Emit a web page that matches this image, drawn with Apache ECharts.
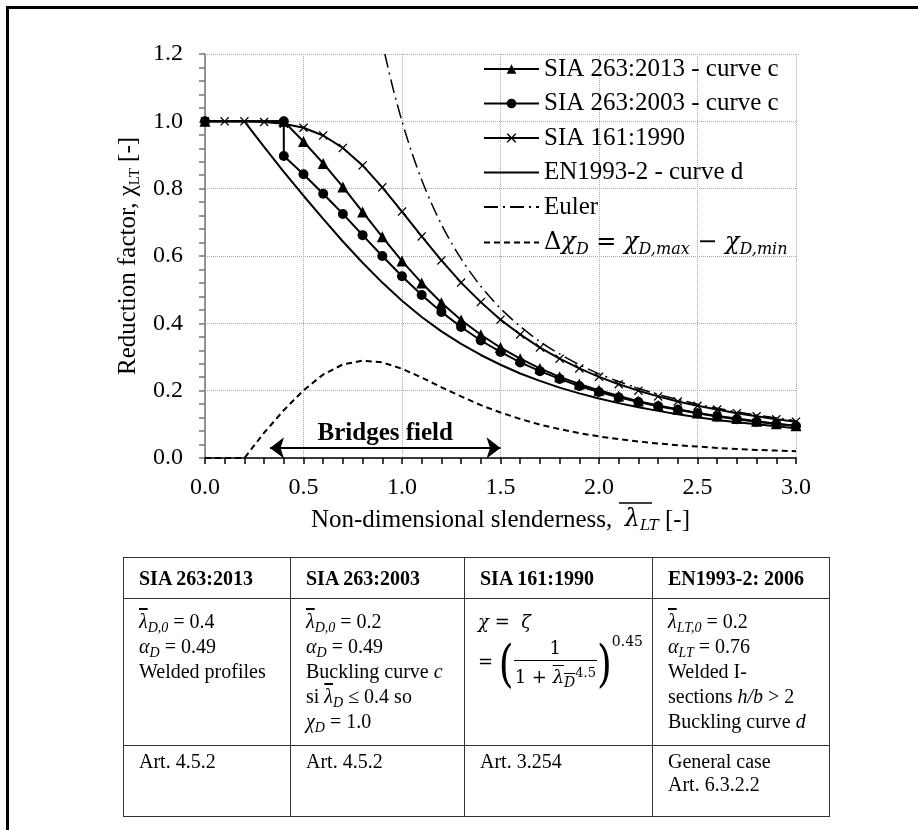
<!DOCTYPE html>
<html>
<head>
<meta charset="utf-8">
<script src="https://cdn.jsdelivr.net/npm/echarts@6/dist/echarts.min.js"></script>
<style>
  body { margin: 0; background: #fff; }
  #wrap { position: relative; width: 918px; height: 830px; overflow: hidden; }
  #chart { position: absolute; left: 0; top: 0; width: 918px; height: 830px; }
  table.info {
    position: absolute; left: 123px; top: 557px; width: 706px;
    border-collapse: collapse; table-layout: fixed;
    font-family: 'Liberation Serif', serif; font-size: 20px; color: #000;
  }
  table.info td, table.info th { border: 1.5px solid #333; vertical-align: top; text-align: left; }
  table.info th { padding: 8px 10px 8px 15px; line-height: 24px; font-weight: bold; }
  tr.body td { padding: 10px 8px 0 15px; line-height: 25px; }
  tr.art td { padding: 4px 8px 0 15px; line-height: 23px; }
  .ov { text-decoration: overline; }
  sub { font-size: 14px; line-height: 0; vertical-align: -4px; }
  tr.body td.math { font-family: 'DejaVu Serif', serif; font-size: 18px; padding: 10px 0 0 13px; white-space: nowrap; }
  .formula { display: inline-block; white-space: nowrap; margin-top: 2px; }
  .frac { display: inline-block; vertical-align: middle; text-align: center; }
  .frac .num { display: block; border-bottom: 1px solid #000; padding: 0 2px; line-height: 24px; }
  .frac .den { display: block; line-height: 24px; padding: 0 1px; }
  .paren { font-size: 38px; font-weight: 200; vertical-align: middle; line-height: 40px; display: inline-block; transform: scaleY(1.35); }
  .pw { font-size: 14px; vertical-align: 22px; line-height: 0; }
</style>
</head>
<body>
<div id="wrap">
  <div id="chart"></div>
  <table class="info">
    <colgroup><col style="width:167px"><col style="width:174px"><col style="width:188px"><col style="width:177px"></colgroup>
    <tr style="height:40px"><th>SIA 263:2013</th><th>SIA 263:2003</th><th>SIA 161:1990</th><th>EN1993-2: 2006</th></tr>
    <tr class="body" style="height:147px">
      <td><span class="ov"><i>λ</i></span><sub><i>D,0</i></sub> = 0.4<br><i>α</i><sub><i>D</i></sub> = 0.49<br>Welded profiles</td>
      <td><span class="ov"><i>λ</i></span><sub><i>D,0</i></sub> = 0.2<br><i>α</i><sub><i>D</i></sub> = 0.49<br>Buckling curve <i>c</i><br>si <span class="ov"><i>λ</i></span><sub><i>D</i></sub> ≤ 0.4 so<br><i>χ</i><sub><i>D</i></sub> = 1.0</td>
      <td class="math"><i>χ</i> = &nbsp;<i>ζ</i><br>
        <span class="formula">= <span class="paren">(</span><span class="frac"><span class="num">1</span><span class="den">1 + <span class="ov"><i>λ</i><sub><i>D</i></sub></span><span style="font-size:13px; vertical-align:6px">4.5</span></span></span><span class="paren">)</span><span class="pw">0.45</span></span></td>
      <td><span class="ov"><i>λ</i></span><sub><i>LT,0</i></sub> = 0.2<br><i>α</i><sub><i>LT</i></sub> = 0.76<br>Welded I-<br>sections <i>h/b</i> &gt; 2<br>Buckling curve <i>d</i></td>
    </tr>
    <tr class="art" style="height:71px">
      <td>Art. 4.5.2</td><td>Art. 4.5.2</td><td>Art. 3.254</td><td>General case<br>Art. 6.3.2.2</td>
    </tr>
  </table>
</div>
<script>
// slenderness values read at each 0.1 step
const lambdaAll = [0, 0.1, 0.2, 0.3, 0.4, 0.5, 0.6, 0.7, 0.8, 0.9, 1.0, 1.1, 1.2, 1.3, 1.4, 1.5,
  1.6, 1.7, 1.8, 1.9, 2.0, 2.1, 2.2, 2.3, 2.4, 2.5, 2.6, 2.7, 2.8, 2.9, 3.0]

// SIA 161:1990
const chiSia161 = [1.000, 1.000, 1.000, 0.998, 0.993, 0.981, 0.958, 0.921, 0.869, 0.804, 0.732,
  0.658, 0.587, 0.521, 0.463, 0.411, 0.367, 0.328, 0.295, 0.266, 0.241, 0.219, 0.200, 0.183,
  0.168, 0.155, 0.144, 0.133, 0.124, 0.115, 0.108]

// delta chi D = max - min
const chiDelta = [0, 0, 0, 0.075, 0.142, 0.201, 0.248, 0.278, 0.289, 0.284, 0.265, 0.239, 0.210,
  0.183, 0.157, 0.135, 0.116, 0.099, 0.086, 0.074, 0.064, 0.056, 0.049, 0.043, 0.038, 0.034,
  0.030, 0.027, 0.024, 0.022, 0.020]

// SIA 263:2013 - curve c
const lambdaSia2013 = [0, 0.4, 0.5, 0.6, 0.7, 0.8, 0.9, 1.0, 1.1, 1.2, 1.3, 1.4, 1.5, 1.6, 1.7,
  1.8, 1.9, 2.0, 2.1, 2.2, 2.3, 2.4, 2.5, 2.6, 2.7, 2.8, 2.9, 3.0]
const chiSia2013 = [1.0, 1.0, 0.940, 0.875, 0.805, 0.731, 0.657, 0.585, 0.520, 0.461, 0.410,
  0.366, 0.328, 0.295, 0.266, 0.241, 0.220, 0.201, 0.184, 0.169, 0.156, 0.145, 0.134, 0.125,
  0.117, 0.109, 0.102, 0.096]

// SIA 263:2003 - curve c (drop at 0.4)
const lambdaSia2003 = [0, 0.4, 0.4, 0.5, 0.6, 0.7, 0.8, 0.9, 1.0, 1.1, 1.2, 1.3, 1.4, 1.5, 1.6,
  1.7, 1.8, 1.9, 2.0, 2.1, 2.2, 2.3, 2.4, 2.5, 2.6, 2.7, 2.8, 2.9, 3.0]
const chiSia2003 = [1.0, 1.0, 0.897, 0.843, 0.785, 0.725, 0.662, 0.600, 0.540, 0.484, 0.434,
  0.389, 0.349, 0.315, 0.284, 0.258, 0.235, 0.214, 0.196, 0.180, 0.166, 0.154, 0.143, 0.133,
  0.123, 0.115, 0.108, 0.101, 0.095]

// EN1993-2 - curve d
const lambdaEn = [0, 0.2, 0.3, 0.4, 0.5, 0.6, 0.7, 0.8, 0.9, 1.0, 1.1, 1.2, 1.3, 1.4, 1.5, 1.6,
  1.7, 1.8, 1.9, 2.0, 2.1, 2.2, 2.3, 2.4, 2.5, 2.6, 2.7, 2.8, 2.9, 3.0]
const chiEn = [1.0, 1.0, 0.924, 0.850, 0.779, 0.710, 0.643, 0.580, 0.521, 0.467, 0.419, 0.376,
  0.339, 0.306, 0.277, 0.251, 0.229, 0.209, 0.192, 0.177, 0.163, 0.151, 0.140, 0.130, 0.121,
  0.113, 0.106, 0.100, 0.094, 0.088]

// Euler
const lambdaEuler = [0.913, 0.95, 1.0, 1.05, 1.1, 1.15, 1.2, 1.25, 1.3, 1.35, 1.4, 1.45, 1.5, 1.6,
  1.7, 1.8, 1.9, 2.0, 2.1, 2.2, 2.3, 2.4, 2.5, 2.6, 2.7, 2.8, 2.9, 3.0]
const chiEuler = [1.2, 1.108, 1.0, 0.907, 0.826, 0.756, 0.694, 0.640, 0.592, 0.549, 0.510, 0.476,
  0.444, 0.391, 0.346, 0.309, 0.277, 0.250, 0.227, 0.207, 0.189, 0.174, 0.160, 0.148, 0.137,
  0.128, 0.119, 0.111]

// bridges field arrow
const bridgesRange = [0.33, 1.5]
const bridgesLevel = 0.03

const names = ['SIA 263:2013 - curve c', 'SIA 263:2003 - curve c', 'SIA 161:1990',
  'EN1993-2 - curve d', 'Euler', 'delta']

const pairs = (xs, ys) => xs.map((x, i) => [x, ys[i]])

const serif = 'Liberation Serif'
const math = 'DejaVu Serif'
const crossPath = 'path://M1,0 L5,4 L9,0 L10,1 L6,5 L10,9 L9,10 L5,6 L1,10 L0,9 L4,5 L0,1 Z'
const noSymbol = { color: 'rgba(0,0,0,0)', borderWidth: 0 }

const chart = echarts.init(document.getElementById('chart'))

const option = {
  animation: false,
  backgroundColor: '#fff',
  textStyle: { fontFamily: serif, color: '#000' },
  graphic: [
    {
      type: 'rect',
      shape: { x: 7.5, y: 7.5, width: 1000, height: 1000 },
      style: { fill: 'none', stroke: '#000', lineWidth: 3 }
    },
    {
      // overline on the lambda of the x axis title
      type: 'line',
      shape: { x1: 619, y1: 503, x2: 652, y2: 503 },
      style: { stroke: '#000', lineWidth: 1.5 }
    }
  ],
  grid: { left: 205, top: 54, width: 591, height: 404 },
  legend: {
    orient: 'vertical',
    left: 483,
    top: 55,
    padding: 0,
    itemWidth: 55,
    itemHeight: 12,
    itemGap: 6.5,
    selectedMode: false,
    textStyle: {
      fontFamily: serif, fontSize: 25, color: '#000', lineHeight: 28,
      rich: {
        m: { fontFamily: math, fontSize: 24, lineHeight: 28 },
        i: { fontFamily: math, fontStyle: 'italic', fontSize: 24, lineHeight: 28 },
        s: { fontFamily: math, fontStyle: 'italic', fontSize: 16, lineHeight: 28, padding: [14, 0, 0, 0] }
      }
    },
    formatter: name => name === 'delta'
      ? '{m|Δ}{i|χ}{s|D}{m| = }{i|χ}{s|D,max}{m| − }{i|χ}{s|D,min}'
      : name,
    data: [
      { name: names[0] },
      { name: names[1] },
      { name: names[2] },
      { name: names[3], itemStyle: noSymbol },
      { name: names[4], itemStyle: noSymbol },
      { name: names[5], itemStyle: noSymbol }
    ]
  },
  xAxis: {
    type: 'value',
    min: 0,
    max: 3,
    interval: 0.5,
    name: '{n|Non-dimensional slenderness,  }{l|λ}{s|LT}{n| [-]}',
    nameLocation: 'middle',
    nameGap: 48,
    nameTextStyle: {
      rich: {
        n: { fontFamily: serif, fontSize: 25, lineHeight: 28 },
        l: { fontFamily: math, fontStyle: 'italic', fontSize: 24, lineHeight: 28 },
        s: { fontFamily: math, fontStyle: 'italic', fontSize: 15, lineHeight: 28, padding: [12, 0, 0, 0] }
      }
    },
    axisLine: { lineStyle: { color: '#000', width: 1.5 } },
    axisTick: { length: 6, lineStyle: { color: '#000', width: 1.5 } },
    minorTick: { show: true, splitNumber: 5, length: 6, lineStyle: { color: '#000', width: 1.5 } },
    axisLabel: { fontFamily: serif, fontSize: 24, color: '#000', margin: 18, formatter: v => v.toFixed(1) },
    splitLine: { show: true, lineStyle: { color: '#aaa', type: 'dotted', width: 1 } }
  },
  yAxis: {
    type: 'value',
    min: 0,
    max: 1.2,
    interval: 0.2,
    name: '{n|Reduction factor, χ}{s|LT}{n| [-]}',
    nameLocation: 'middle',
    nameRotate: 90,
    nameGap: 60,
    nameTextStyle: {
      rich: {
        n: { fontFamily: serif, fontSize: 25, lineHeight: 28 },
        s: { fontFamily: serif, fontSize: 15, lineHeight: 28, padding: [12, 0, 0, 0] }
      }
    },
    axisLine: { show: true, lineStyle: { color: '#777', width: 1.5 } },
    axisTick: { show: true, length: 6, lineStyle: { color: '#777', width: 1.5 } },
    minorTick: { show: true, splitNumber: 5, length: 6, lineStyle: { color: '#777', width: 1.5 } },
    axisLabel: { fontFamily: serif, fontSize: 24, color: '#000', margin: 22, formatter: v => v.toFixed(1) },
    splitLine: { show: true, lineStyle: { color: '#aaa', type: 'dotted', width: 1 } }
  },
  series: [
    {
      name: names[0],
      type: 'line',
      data: pairs(lambdaSia2013, chiSia2013),
      symbol: 'triangle',
      symbolSize: 11,
      itemStyle: { color: '#000' },
      lineStyle: { color: '#000', width: 2 },
      z: 5
    },
    {
      name: names[1],
      type: 'line',
      data: pairs(lambdaSia2003, chiSia2003),
      symbol: 'circle',
      symbolSize: 10,
      itemStyle: { color: '#000' },
      lineStyle: { color: '#000', width: 2 },
      z: 4
    },
    {
      name: names[2],
      type: 'line',
      data: pairs(lambdaAll, chiSia161),
      symbol: crossPath,
      symbolSize: 9,
      itemStyle: { color: '#000' },
      lineStyle: { color: '#000', width: 2 },
      z: 3
    },
    {
      name: names[3],
      type: 'line',
      data: pairs(lambdaEn, chiEn),
      symbol: 'none',
      lineStyle: { color: '#000', width: 2 },
      itemStyle: { color: '#000' }
    },
    {
      name: names[4],
      type: 'line',
      data: pairs(lambdaEuler, chiEuler),
      symbol: 'none',
      smooth: 0.3,
      lineStyle: { color: '#000', width: 1.5, type: [14, 5, 2, 5] },
      itemStyle: { color: '#000' }
    },
    {
      name: names[5],
      type: 'line',
      data: pairs(lambdaAll, chiDelta),
      symbol: 'none',
      lineStyle: { color: '#000', width: 2, type: [6, 4] },
      itemStyle: { color: '#000' },
      markLine: {
        silent: true,
        symbol: ['arrow', 'arrow'],
        symbolSize: [16, 14],
        lineStyle: { color: '#000', width: 2, type: 'solid' },
        label: {
          show: true,
          position: 'insideMiddleTop',
          distance: 2,
          formatter: 'Bridges field',
          fontFamily: serif,
          fontSize: 25,
          fontWeight: 'bold',
          color: '#000'
        },
        data: [[
          { coord: [bridgesRange[0], bridgesLevel] },
          { coord: [bridgesRange[1], bridgesLevel] }
        ]]
      }
    }
  ]
}

chart.setOption(option)
</script>
</body>
</html>
